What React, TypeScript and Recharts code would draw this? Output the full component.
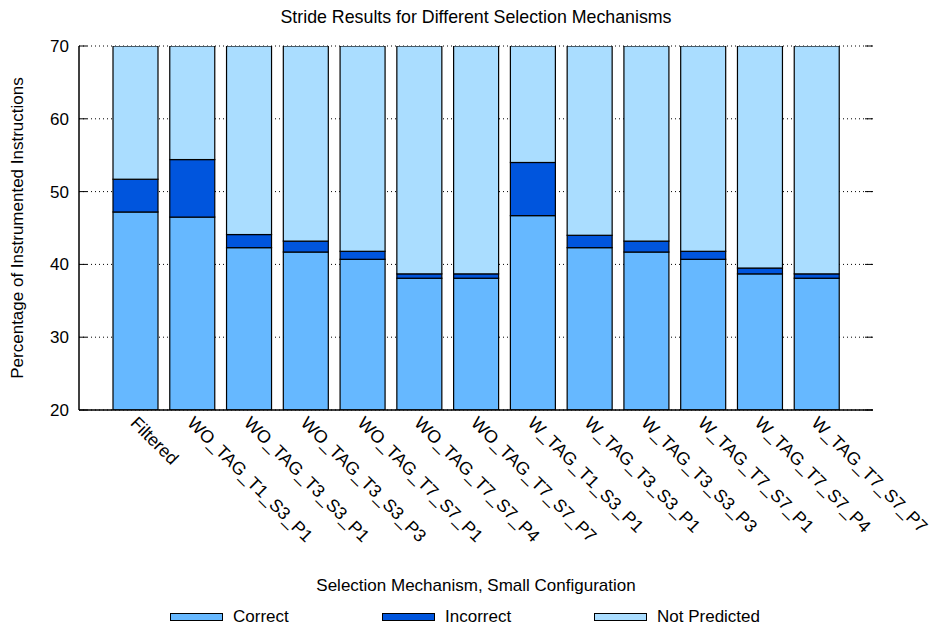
import React from 'react';
import { BarChart, Bar, XAxis, YAxis, CartesianGrid, Legend, Label } from 'recharts';

const categories = [
  'Filtered',
  'WO_TAG_T1_S3_P1',
  'WO_TAG_T3_S3_P1',
  'WO_TAG_T3_S3_P3',
  'WO_TAG_T7_S7_P1',
  'WO_TAG_T7_S7_P4',
  'WO_TAG_T7_S7_P7',
  'W_TAG_T1_S3_P1',
  'W_TAG_T3_S3_P1',
  'W_TAG_T3_S3_P3',
  'W_TAG_T7_S7_P1',
  'W_TAG_T7_S7_P4',
  'W_TAG_T7_S7_P7',
];
const correct = [47.2, 46.5, 42.3, 41.7, 40.7, 38.1, 38.1, 46.7, 42.3, 41.7, 40.7, 38.7, 38.1];
const incorrect = [4.5, 7.9, 1.8, 1.5, 1.1, 0.6, 0.6, 7.3, 1.7, 1.5, 1.1, 0.8, 0.6];
const notPredicted = [48.3, 45.6, 55.9, 56.8, 58.2, 61.3, 61.3, 46.0, 56.0, 56.8, 58.2, 60.5, 61.3];
const yTicks = [20, 30, 40, 50, 60, 70];

const series = [
  { key: 'correct', name: 'Correct', color: '#66b8ff' },
  { key: 'incorrect', name: 'Incorrect', color: '#0055dd' },
  { key: 'notPredicted', name: 'Not Predicted', color: '#aaddff' },
];

const data = categories.map((c, i) => ({
  name: c,
  correct: correct[i],
  incorrect: incorrect[i],
  notPredicted: notPredicted[i],
}));

const FONT = '"Liberation Sans", Arial, Helvetica, sans-serif';
const FS = 17;

const ClampedBar = (props: any) => {
  const { x, y, width, height, fill, background } = props;
  if (width == null || height == null) return null;
  let top = y;
  let bottom = y + height;
  if (background) {
    top = Math.max(top, background.y);
    bottom = Math.min(bottom, background.y + background.height);
  }
  if (bottom <= top) return null;
  return <rect x={x} y={top} width={width} height={bottom - top} fill={fill} stroke="#000" strokeWidth={1.2} />;
};

const XTick = (props: any) => {
  const { x, y, payload } = props;
  const tx = x - 6;
  const ty = y + 14;
  return (
    <text x={tx} y={ty} transform={`rotate(45, ${tx}, ${ty})`} textAnchor="start" fontFamily={FONT} fontSize={17.7} fill="#000">
      {payload.value}
    </text>
  );
};

const YTickLeft = (props: any) => {
  const { x, y, payload } = props;
  return (
    <g>
      <line x1={x} x2={x + 8} y1={y} y2={y} stroke="#000" strokeWidth={1} />
      <text x={x - 10} y={y} dy={6} textAnchor="end" fontFamily={FONT} fontSize={FS} fill="#000">
        {payload.value}
      </text>
    </g>
  );
};

const YTickRight = (props: any) => {
  const { x, y } = props;
  return <line x1={x - 8} x2={x} y1={y} y2={y} stroke="#000" strokeWidth={1} />;
};

const LegendContent = () => (
  <div style={{ display: 'flex', fontFamily: FONT, fontSize: FS, color: '#000' }}>
    {series.map((s) => (
      <div key={s.key} style={{ width: 212, display: 'flex', alignItems: 'center' }}>
        <div style={{ width: 51, height: 6, background: s.color, border: '1px solid #000', marginRight: 10 }} />
        <span>{s.name}</span>
      </div>
    ))}
  </div>
);

export default function App() {
  return (
    <div style={{ position: 'absolute', left: 0, top: 0, width: 932, height: 625, background: '#fff' }}>
      <BarChart width={932} height={625} data={data} margin={{ top: 46, right: 58, bottom: 95, left: 19 }} barSize={45}>
        <CartesianGrid yAxisId="left" vertical={false} stroke="#000" strokeDasharray="1 3" strokeWidth={1} />
        <XAxis
          dataKey="name"
          interval={0}
          height={120}
          padding={{ left: 28, right: 28 }}
          axisLine={{ stroke: '#000', strokeWidth: 1.5 }}
          tickLine={false}
          tickSize={0}
          tickMargin={0}
          tick={<XTick />}
        >
          <Label
            content={(p: any) => {
              const vb = p.viewBox;
              return (
                <text x={vb.x + vb.width / 2} y={vb.y + 181} textAnchor="middle" fontFamily={FONT} fontSize={FS} fill="#000">
                  Selection Mechanism, Small Configuration
                </text>
              );
            }}
          />
        </XAxis>
        <YAxis
          yAxisId="left"
          width={60}
          domain={[20, 70]}
          ticks={yTicks}
          allowDataOverflow
          axisLine={{ stroke: '#000', strokeWidth: 1.5 }}
          tickLine={false}
          tickSize={0}
          tickMargin={0}
          tick={<YTickLeft />}
        >
          <Label
            content={(p: any) => {
              const vb = p.viewBox;
              const cx = 17;
              const cy = vb.y + vb.height / 2;
              return (
                <text x={cx} y={cy} transform={`rotate(-90, ${cx}, ${cy})`} textAnchor="middle" dominantBaseline="central" fontFamily={FONT} fontSize={FS} fill="#000">
                  Percentage of Instrumented Instructions
                </text>
              );
            }}
          />
        </YAxis>
        <YAxis
          yAxisId="right"
          orientation="right"
          width={1}
          domain={[20, 70]}
          ticks={yTicks}
          allowDataOverflow
          axisLine={false}
          tickLine={false}
          tickSize={0}
          tickMargin={0}
          tick={<YTickRight />}
        />
        <Legend
          layout="horizontal"
          verticalAlign="middle"
          align="center"
          wrapperStyle={{ position: 'absolute', left: 170, top: 607, width: 700 }}
          content={<LegendContent />}
        />
        {series.map((s) => (
          <Bar
            key={s.key}
            yAxisId="left"
            dataKey={s.key}
            name={s.name}
            stackId="a"
            fill={s.color}
            stroke="#000"
            isAnimationActive={false}
            shape={<ClampedBar />}
          />
        ))}
        <text x={476} y={23} textAnchor="middle" fontFamily={FONT} fontSize={17.8} fill="#000">
          Stride Results for Different Selection Mechanisms
        </text>
      </BarChart>
    </div>
  );
}
